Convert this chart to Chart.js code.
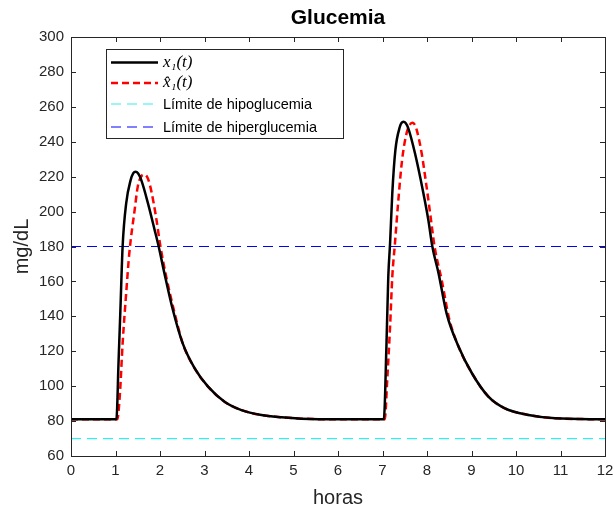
<!DOCTYPE html>
<html>
<head>
<meta charset="utf-8">
<script src="https://cdn.jsdelivr.net/npm/chart.js@4.4.1/dist/chart.umd.min.js"></script>
<style>
html,body{margin:0;padding:0;background:#fff;}
#wrap{width:614px;height:510px;}
</style>
</head>
<body>
<div id="wrap"><canvas id="c" width="614" height="510"></canvas></div>
<script>
// ---- data ----
const tX1 = [0, 1.0, 1.02, 1.07, 1.11, 1.16, 1.24, 1.34, 1.40, 1.45, 1.51, 1.58, 1.73, 1.88, 1.97, 2.10, 2.29, 2.51, 2.78, 3.08, 3.45, 3.83, 4.28, 4.73, 5.18, 6.0, 7.0, 7.03, 7.09, 7.13, 7.17, 7.22, 7.29, 7.39, 7.43, 7.47, 7.52, 7.58, 7.73, 7.92, 8.03, 8.12, 8.26, 8.44, 8.71, 9.01, 9.38, 9.75, 10.28, 10.88, 12];
const yX1 = [81, 81, 81, 115, 143.6, 180, 204.7, 218, 222.0, 222.8, 221.8, 218, 204.7, 189.4, 180, 164.6, 143.6, 124.5, 110.2, 99.7, 91.1, 86.3, 83.5, 82.2, 81.4, 81, 81, 81, 124.5, 162.7, 181.8, 210.4, 235.3, 248.6, 250.9, 251.5, 250.8, 247.7, 233.4, 210.4, 195.2, 180, 164.6, 141.7, 122.6, 107.4, 94, 87.3, 83.5, 81.6, 81];
const tX1hat = [0, 1.0, 1.04, 1.10, 1.16, 1.24, 1.31, 1.43, 1.50, 1.57, 1.65, 1.73, 1.80, 1.91, 2.01, 2.14, 2.33, 2.51, 2.78, 3.08, 3.45, 3.83, 4.28, 4.73, 5.18, 6.0, 7.0, 7.05, 7.11, 7.17, 7.22, 7.28, 7.35, 7.44, 7.54, 7.61, 7.67, 7.72, 7.77, 7.88, 7.99, 8.09, 8.17, 8.33, 8.50, 8.71, 9.01, 9.38, 9.75, 10.28, 10.88, 12];
const yX1hat = [81, 81, 81, 95.9, 124.5, 153.2, 176.1, 200.9, 214.3, 219.8, 221.3, 218.8, 212.3, 197.1, 180, 162.7, 141.7, 124.5, 110.2, 99.7, 91.1, 86.3, 83.5, 82.2, 81.4, 81, 81, 81, 105.4, 134, 162.7, 181.8, 204.7, 229.5, 244.8, 249.6, 250.9, 250.0, 246.7, 233.4, 214.3, 195.2, 180, 160.8, 138.5, 122.6, 107.4, 94, 87.3, 83.5, 81.6, 81];
const limitT = [0, 12];
const hypoLimit = [70, 70];
const hyperLimit = [180, 180];
const xTicks = [0,1,2,3,4,5,6,7,8,9,10,11,12];
const yTicks = [60,80,100,120,140,160,180,200,220,240,260,280,300];
const legendLabels = ['x\u2081(t)', 'x\u0302\u2081(t)', 'L\u00edmite de hipoglucemia', 'L\u00edmite de hiperglucemia'];
const chartTitle = 'Glucemia';

const pts = (t, y) => t.map((v, i) => ({x: v, y: y[i]}));
const TXT = '#262626';
const SANS = '"Liberation Sans", Arial, Helvetica, sans-serif';

const datasets = [
  {label: legendLabels[0], data: pts(tX1, yX1), borderColor: '#000000', borderWidth: 2.5, cubicInterpolationMode: 'monotone', pointRadius: 0, fill: false},
  {label: legendLabels[1], data: pts(tX1hat, yX1hat), borderColor: '#ff0000', borderWidth: 2.5, borderDash: [7, 4], cubicInterpolationMode: 'monotone', pointRadius: 0, fill: false},
  {label: legendLabels[2], data: pts(limitT, hypoLimit), borderColor: '#33eeee', borderWidth: 1.2, borderDash: [10, 6], pointRadius: 0, fill: false},
  {label: legendLabels[3], data: pts(limitT, hyperLimit), borderColor: '#0000ff', borderWidth: 1.2, borderDash: [10, 6], pointRadius: 0, fill: false}
];

const boxPlugin = {
  id: 'boxPlugin',
  afterDatasetsDraw(chart) {
    const ctx = chart.ctx, a = chart.chartArea;
    const xs = chart.scales.x, ys = chart.scales.y;
    ctx.save();
    ctx.strokeStyle = '#262626';
    ctx.lineWidth = 1;
    ctx.setLineDash([]);
    ctx.beginPath();
    xs.ticks.forEach(t => {
      const p = Math.round(xs.getPixelForValue(t.value)) + 0.5;
      ctx.moveTo(p, a.bottom); ctx.lineTo(p, a.bottom - 5);
      ctx.moveTo(p, a.top); ctx.lineTo(p, a.top + 5);
    });
    ys.ticks.forEach(t => {
      const p = Math.round(ys.getPixelForValue(t.value)) + 0.5;
      ctx.moveTo(a.left, p); ctx.lineTo(a.left + 5, p);
      ctx.moveTo(a.right, p); ctx.lineTo(a.right - 5, p);
    });
    ctx.stroke();
    ctx.strokeRect(Math.round(a.left) + 0.5, Math.round(a.top) + 0.5, Math.round(a.right - a.left), Math.round(a.bottom - a.top));

    // title centred over the axes
    ctx.fillStyle = '#000000';
    ctx.font = 'bold 21px ' + SANS;
    ctx.textAlign = 'center';
    ctx.textBaseline = 'middle';
    ctx.fillText(chartTitle, (a.left + a.right) / 2, 18);

    // legend box
    const lx = 106, ly = 49, lw = 237, lh = 89;
    ctx.fillStyle = '#ffffff';
    ctx.fillRect(lx, ly, lw, lh);
    ctx.strokeStyle = '#262626';
    ctx.lineWidth = 1;
    ctx.strokeRect(lx + 0.5, ly + 0.5, lw, lh);
    const rows = [62.5, 83, 104, 127];
    chart.data.datasets.forEach((ds, i) => {
      const y = rows[i];
      ctx.beginPath();
      ctx.strokeStyle = ds.borderColor;
      ctx.lineWidth = ds.borderWidth;
      ctx.setLineDash(ds.borderDash || []);
      ctx.moveTo(111, y); ctx.lineTo(158, y);
      ctx.stroke();
      ctx.setLineDash([]);
      ctx.fillStyle = '#000000';
      ctx.textBaseline = 'middle';
      ctx.textAlign = 'left';
      if (i < 2) {
        ctx.font = 'italic 17px "Liberation Serif", "DejaVu Serif", serif';
      } else {
        ctx.font = '14.5px ' + SANS;
      }
      ctx.fillText(ds.label, 163, y + (i < 2 ? 0 : 1));
    });
    ctx.restore();
  }
};

new Chart(document.getElementById('c'), {
  type: 'line',
  data: {datasets},
  plugins: [boxPlugin],
  options: {
    responsive: false,
    animation: false,
    layout: {padding: {left: 0, right: 9, top: 37, bottom: 0}},
    plugins: {
      legend: {display: false},
      tooltip: {enabled: false},
      title: {display: false}
    },
    scales: {
      x: {
        type: 'linear', min: 0, max: 12,
        afterBuildTicks: s => { s.ticks = xTicks.map(v => ({value: v})); },
        afterFit: s => { s.height = 54; s.paddingLeft = 0; s.paddingRight = 0; },
        grid: {display: false, drawTicks: false},
        border: {display: false},
        ticks: {color: TXT, font: {family: SANS, size: 15}, padding: 6, maxRotation: 0, autoSkip: false},
        title: {display: true, text: 'horas', color: TXT, font: {family: SANS, size: 20}, padding: {top: 3, bottom: 0}}
      },
      y: {
        type: 'linear', min: 60, max: 300,
        afterBuildTicks: s => { s.ticks = yTicks.map(v => ({value: v})); },
        afterFit: s => { s.width = 71; s.paddingTop = 0; s.paddingBottom = 0; },
        grid: {display: false, drawTicks: false},
        border: {display: false},
        ticks: {color: TXT, font: {family: SANS, size: 15}, padding: 7, autoSkip: false},
        title: {display: true, text: 'mg/dL', color: TXT, font: {family: SANS, size: 20}, padding: {top: 10, bottom: 0}}
      }
    }
  }
});
</script>
</body>
</html>
